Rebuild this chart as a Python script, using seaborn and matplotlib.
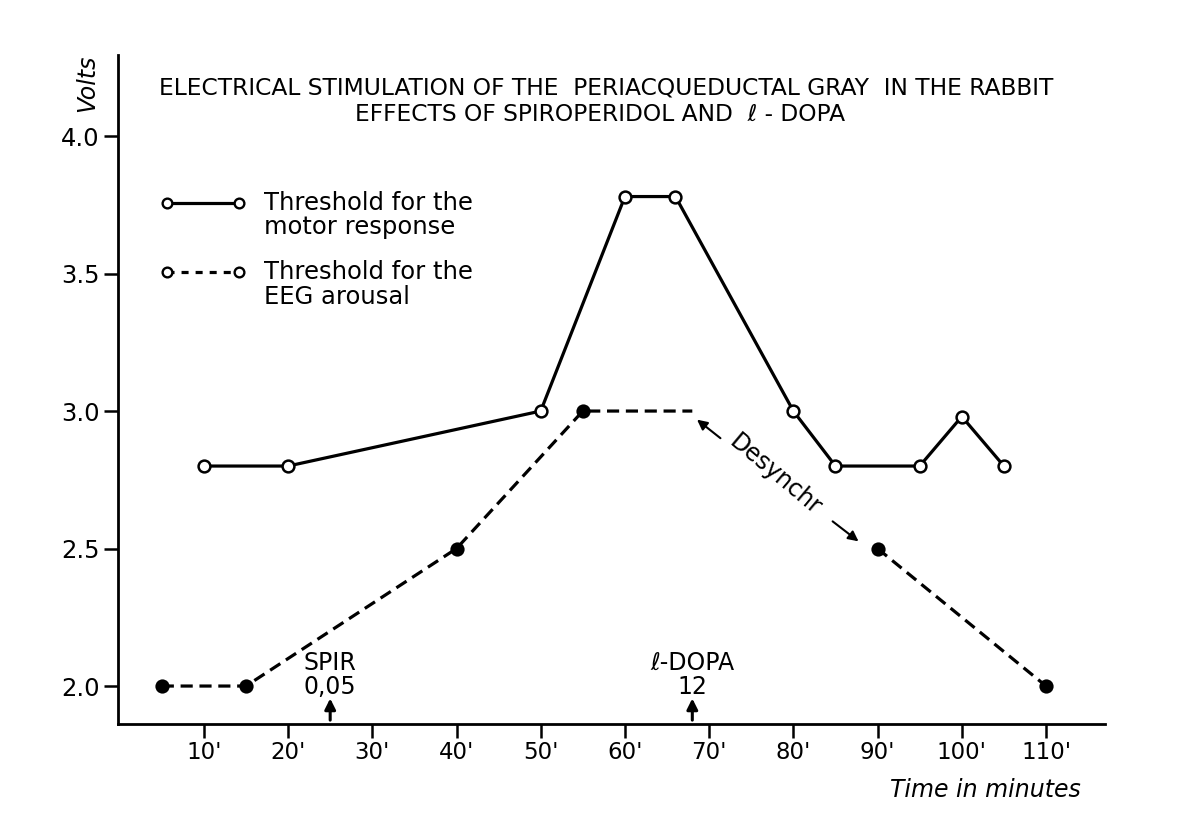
import pandas as pd
import matplotlib.pyplot as plt
from matplotlib.lines import Line2D
import seaborn as sns

# Threshold for the motor response (open circles, solid line)
motor_time = [10, 20, 50, 60, 66, 80, 85, 95, 100, 105]
motor_volts = [2.8, 2.8, 3.0, 3.78, 3.78, 3.0, 2.8, 2.8, 2.98, 2.8]

# Threshold for the EEG arousal (filled dots, dashed line)
eeg_time = [5, 15, 40, 55, 90, 110]
eeg_volts = [2.0, 2.0, 2.5, 3.0, 2.5, 2.0]
# dashed line runs flat after 55' up to the l-DOPA dose, then breaks (desynchr)
eeg_break_time = 68
eeg_break_volts = 3.0

x_ticks = [10, 20, 30, 40, 50, 60, 70, 80, 90, 100, 110]
x_labels = [f"{t}'" for t in x_ticks]
y_ticks = [2.0, 2.5, 3.0, 3.5, 4.0]
y_labels = ["2.0", "2.5", "3.0", "3.5", "4.0"]

spir_time = 25
dopa_time = 68

sns.set_style("ticks")
plt.rcParams["font.family"] = ["DejaVu Sans"]
plt.rcParams["text.color"] = "black"
plt.rcParams["xtick.color"] = "black"
plt.rcParams["ytick.color"] = "black"
plt.rcParams["axes.edgecolor"] = "black"

fig = plt.figure(figsize=(12, 8.26), dpi=100)
ax = fig.add_axes([0.0983, 0.1235, 0.8225, 0.81])

# motor response
motor = pd.DataFrame({"time": motor_time, "volts": motor_volts})
sns.lineplot(data=motor, x="time", y="volts", sort=False, color="black", lw=2.3,
             marker="o", markersize=8.5, markerfacecolor="white",
             markeredgecolor="black", markeredgewidth=1.8, ax=ax, zorder=3)

# EEG arousal, drawn as two pieces
eeg_line = pd.DataFrame({
    "time": eeg_time[:4] + [eeg_break_time] + eeg_time[4:],
    "volts": eeg_volts[:4] + [eeg_break_volts] + eeg_volts[4:],
    "piece": [0, 0, 0, 0, 0, 1, 1],
})
sns.lineplot(data=eeg_line, x="time", y="volts", units="piece", estimator=None,
             sort=False, color="black", lw=2.3, linestyle=(0, (3.8, 2.1)), ax=ax)
eeg = pd.DataFrame({"time": eeg_time, "volts": eeg_volts})
sns.scatterplot(data=eeg, x="time", y="volts", color="black", s=105,
                edgecolor="black", linewidth=0, ax=ax, zorder=4)

ax.set_xlim(-0.2, 117.0)
ax.set_ylim(1.862, 4.295)
ax.set_xticks(x_ticks)
ax.set_xticklabels(x_labels, fontsize=16.5)
ax.set_yticks(y_ticks)
ax.set_yticklabels(y_labels, fontsize=17.5)
ax.tick_params(axis="both", length=10, width=1.8, direction="out")
ax.tick_params(axis="x", pad=2)
ax.tick_params(axis="y", pad=3)
ax.set_xlabel("")
ax.set_ylabel("")
sns.despine(ax=ax)
for s in ["left", "bottom"]:
    ax.spines[s].set_linewidth(2.0)

# axis captions
ax.text(-0.031, 1.0, "Volts", transform=ax.transAxes, rotation=90,
        style="italic", fontsize=17, ha="center", va="top")
ax.text(0.975, -0.08, "Time in minutes", transform=ax.transAxes,
        style="italic", fontsize=17, ha="right", va="top")

# title
fig.text(0.505, 0.894, "ELECTRICAL STIMULATION OF THE  PERIACQUEDUCTAL GRAY  IN THE RABBIT",
         fontsize=16.8, ha="center", va="center")
fig.text(0.50, 0.862, "EFFECTS OF SPIROPERIDOL AND  \u2113 - DOPA",
         fontsize=16.8, ha="center", va="center")

# legend
handles = [
    Line2D([], [], color="black", lw=2.3, marker="o", markersize=7,
           markerfacecolor="white", markeredgewidth=1.7),
    Line2D([], [], color="black", lw=2.3, linestyle=(0, (2.2, 2.2)), marker="o",
           markersize=7, markerfacecolor="white", markeredgewidth=1.7),
]
leg = ax.legend(handles, ["Threshold for the\nmotor response", "Threshold for the\nEEG arousal"],
                loc="upper left", bbox_to_anchor=(0.02, 0.83), frameon=False,
                numpoints=2, handlelength=3.55, handletextpad=0.75, labelspacing=0.85,
                fontsize=17.5)
for t in leg.get_texts():
    t.set_linespacing(1.05)
# put the key level with the first line of each label
for h in leg.legend_handles:
    h.set_ydata([y + 9.5 for y in h.get_ydata()])

# drug administration arrows
arrow_kw = dict(arrowstyle="-|>", color="black", lw=2.2, mutation_scale=16)
ax.annotate("", xy=(spir_time, 1.965), xytext=(spir_time, 1.866), arrowprops=arrow_kw)
ax.text(spir_time, 2.04, "SPIR\n0,05", fontsize=17, ha="center", va="center",
        linespacing=1.0)
ax.annotate("", xy=(dopa_time, 1.965), xytext=(dopa_time, 1.866), arrowprops=arrow_kw)
ax.text(dopa_time, 2.04, "\u2113-DOPA\n12", fontsize=17, ha="center", va="center",
        linespacing=1.0)

# desynchronisation gap
ax.text(77.9, 2.77, "Desynchr", fontsize=17, rotation=-40,
        ha="center", va="center", rotation_mode="anchor")
thin_kw = dict(arrowstyle="-|>", color="black", lw=1.5, mutation_scale=15)
ax.annotate("", xy=(68.3, 2.975), xytext=(71.6, 2.895), arrowprops=thin_kw)
ax.annotate("", xy=(88.0, 2.52), xytext=(84.4, 2.605), arrowprops=thin_kw)

fig.savefig("out.png", dpi=100, facecolor="white")
